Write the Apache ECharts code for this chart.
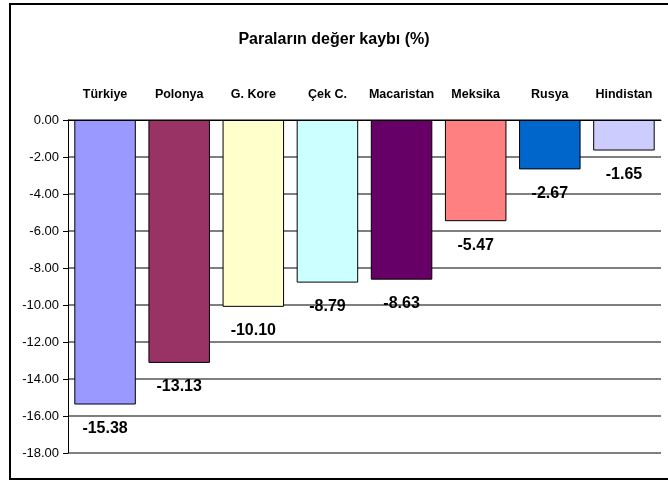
<!DOCTYPE html>
<html>
<head>
<meta charset="utf-8">
<script src="https://cdn.jsdelivr.net/npm/echarts@6/dist/echarts.min.js"></script>
<style>
  html, body { margin: 0; padding: 0; background: #fff; }
  #frame { position: absolute; left: 9px; top: 3px; width: 670px; height: 477px; border: 2px solid #000; border-right: none; box-sizing: border-box; }
  #chart { position: absolute; left: 0; top: 0; width: 668px; height: 486px; }
</style>
</head>
<body>
<div id="frame"></div>
<div id="chart"></div>
<script>
// ülkeler ve değer kayıpları
const countries = ['Türkiye', 'Polonya', 'G. Kore', 'Çek C.', 'Macaristan', 'Meksika', 'Rusya', 'Hindistan'];
const losses = [-15.38, -13.13, -10.10, -8.79, -8.63, -5.47, -2.67, -1.65];
const barColors = ['#9999FF', '#993366', '#FFFFCC', '#CCFFFF', '#660066', '#FF8080', '#0066CC', '#CCCCFF'];
const yTicks = { min: -18, max: 0, interval: 2 };

const font = "'Liberation Sans Narrow', 'Arial Narrow', 'Liberation Sans', Arial, sans-serif";

var myChart = echarts.init(document.getElementById('chart'));

var data = [];
for (var i = 0; i < losses.length; i++) {
    data.push({
        value: losses[i],
        itemStyle: { color: barColors[i] }
    });
}

var option = {
    animation: false,
    title: {
        text: 'Paraların değer kaybı (%)',
        left: 'center',
        top: 27,
        textStyle: { fontFamily: font, fontSize: 16, fontWeight: 'bold', color: '#000' }
    },
    grid: { left: 68, right: 7, top: 120, bottom: 33 },
    xAxis: {
        type: 'category',
        position: 'top',
        data: countries,
        axisLine: { lineStyle: { color: '#000', width: 1 } },
        axisTick: { inside: true, length: 6, lineStyle: { color: '#000' } },
        axisLabel: { interval: 0, margin: 19, fontFamily: font, fontSize: 12.5, fontWeight: 'bold', color: '#000' }
    },
    yAxis: {
        type: 'value',
        min: yTicks.min,
        max: yTicks.max,
        interval: yTicks.interval,
        axisLine: { show: true, lineStyle: { color: '#000' } },
        axisTick: { show: true, length: 5, lineStyle: { color: '#000' } },
        axisLabel: {
            margin: 9,
            fontFamily: font, fontSize: 13, color: '#000',
            formatter: function (v) { return v.toFixed(2); }
        },
        splitLine: { lineStyle: { color: '#555', width: 1.5 } }
    },
    series: [{
        type: 'bar',
        data: data,
        barWidth: '83%',
        itemStyle: { borderColor: '#000', borderWidth: 1 },
        label: {
            show: true,
            position: 'bottom',
            distance: 16,
            fontFamily: font, fontSize: 16, fontWeight: 'bold', color: '#000',
            formatter: function (p) { return p.value.toFixed(2); }
        }
    }]
};

myChart.setOption(option);
</script>
</body>
</html>
